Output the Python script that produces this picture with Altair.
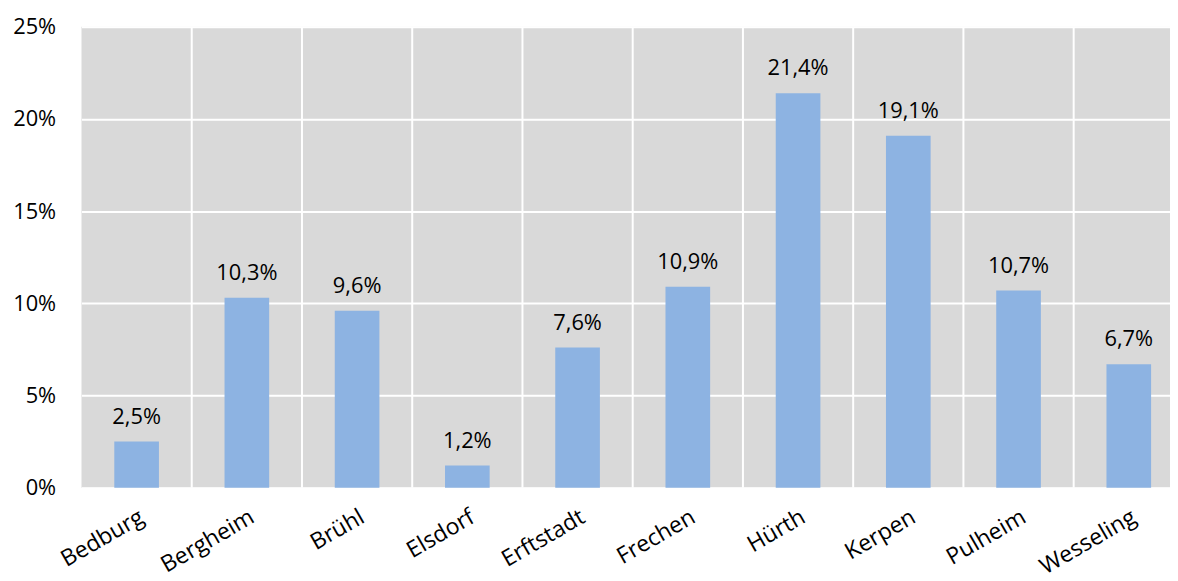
import altair as alt
import pandas as pd

cities = ["Bedburg", "Bergheim", "Brühl", "Elsdorf", "Erftstadt",
          "Frechen", "Hürth", "Kerpen", "Pulheim", "Wesseling"]
shares = [2.5, 10.3, 9.6, 1.2, 7.6, 10.9, 21.4, 19.1, 10.7, 6.7]
y_ticks = [0, 5, 10, 15, 20, 25]

df = pd.DataFrame({"city": cities, "share": shares})
df["label"] = [f"{v:.1f}".replace(".", ",") + "%" for v in shares]
# category boundaries (between neighbouring categories)
bounds = pd.DataFrame({"b": list(range(1, len(cities)))})

FONT = "Open Sans"
FS = 22
PI = 0.595
RANGE = [0, 1110]
xscale = alt.Scale(domain=cities, range=RANGE, paddingInner=PI, paddingOuter=PI / 2)
yscale = alt.Scale(domain=[0, 25], nice=False)
xaxis = alt.Axis(title=None, labelAngle=-30, labelFont=FONT, labelFontSize=23,
                 labelColor="black", ticks=False, domain=False, labelPadding=18, grid=False)

vrules = alt.Chart(bounds).mark_rule(color="white", strokeWidth=2).encode(
    x=alt.X("b:Q", scale=alt.Scale(domain=[0, len(cities)], range=RANGE, nice=False, zero=False),
            axis=None)
)

base = alt.Chart(df)
bars = base.mark_bar(color="#8db3e2").encode(
    x=alt.X("city:N", sort=cities, scale=xscale, axis=xaxis),
    y=alt.Y("share:Q", scale=yscale,
            axis=alt.Axis(title=None, values=y_ticks, labelExpr="datum.value + '%'",
                          labelFont=FONT, labelFontSize=FS, labelColor="black",
                          ticks=False, domain=False, labelPadding=26,
                          grid=True, gridColor="white", gridWidth=2)),
)

texts = base.mark_text(baseline="bottom", dy=-13, font=FONT, fontSize=FS, color="black").encode(
    x=alt.X("city:N", sort=cities, scale=xscale),
    y=alt.Y("share:Q", scale=yscale),
    text="label:N",
)

chart = alt.layer(vrules, alt.layer(bars, texts)).resolve_scale(x="independent").properties(
    width=1096, height=464,
    autosize=alt.AutoSizeParams(type="none"),
    padding={"left": 74, "top": 17, "right": 0, "bottom": 100},
    background="white",
).configure_view(fill="#d9d9d9", strokeWidth=0)

chart.save("out.html", embed_options={"renderer": "svg", "actions": False})
